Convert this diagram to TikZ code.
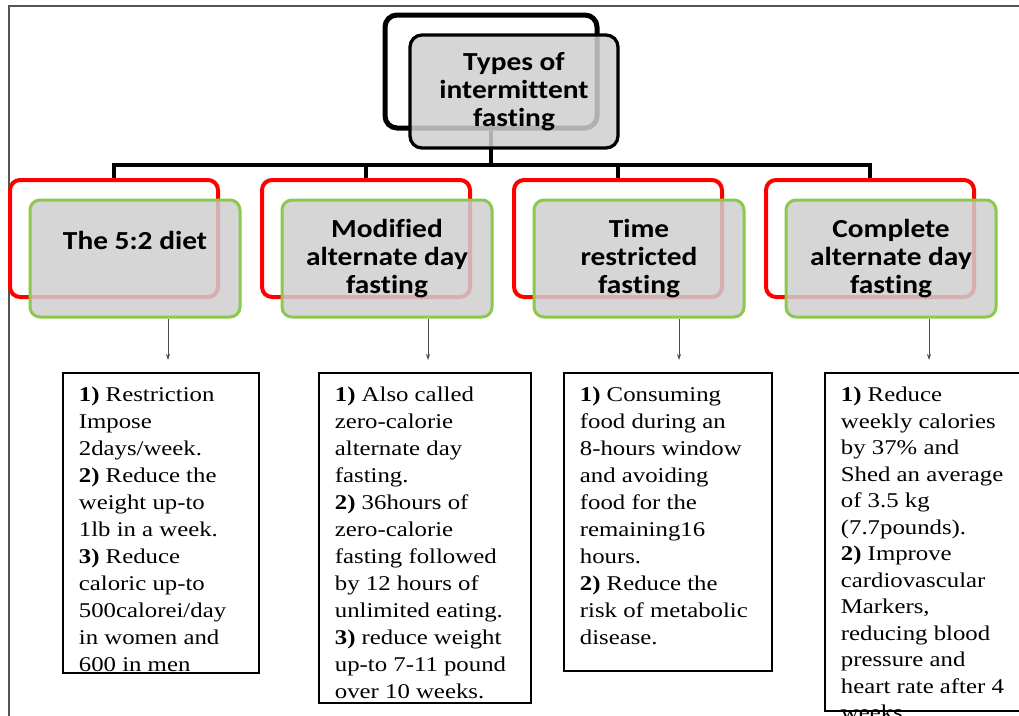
\documentclass[tikz,border=0pt]{standalone}
\usepackage{fontspec}
\newfontfamily\headfont[FakeStretch=1.13, Ligatures=NoCommon]{Carlito}
\newfontfamily\infofont[FakeStretch=1.18]{Liberation Serif}
\usetikzlibrary{positioning,arrows.meta}

\definecolor{boxgray}{HTML}{CFCFCF}
\definecolor{leafgreen}{HTML}{8CC84B}
\definecolor{framegray}{HTML}{555555}

\newcommand{\infolines}[3]{\parbox[t][#1pt][t]{#2pt}{\rule{0pt}{29pt}#3}}

\tikzset{
  backbox/.style={draw=black, line width=5pt, rounded corners=12pt, fill=white,
    minimum width=212pt, minimum height=113pt},
  topbox/.style={draw=black, line width=3.3pt, rounded corners=12pt, fill=boxgray,
    fill opacity=0.85, text opacity=1, minimum width=208pt, minimum height=113pt,
    align=center, font=\headfont\bfseries\fontsize{26}{28}\selectfont},
  redbox/.style={draw=red, line width=4pt, rounded corners=10pt, fill=white,
    minimum width=208pt, minimum height=117pt},
  greenbox/.style={draw=leafgreen, line width=3pt, rounded corners=10pt, fill=boxgray,
    fill opacity=0.85, text opacity=1, minimum width=210pt, minimum height=117pt,
    align=center, font=\headfont\bfseries\fontsize{26}{28}\selectfont},
  infobox/.style={draw=black, line width=1.8pt, fill=white, anchor=north west,
    inner xsep=16pt, inner ysep=0pt, font=\infofont\fontsize{21}{27}\selectfont},
  tree/.style={draw=black, line width=3.5pt},
  arr/.style={draw=gray!60!black, line width=1pt, -{Stealth[length=6pt,width=4pt]},
    shorten >=12pt}
}

\begin{document}
\begin{tikzpicture}[x=1pt, y=-1pt, node distance=40pt]

  \useasboundingbox (0,0) rectangle (1019,715);
  \clip (0,0) rectangle (1019,715);

  % Frame
  \draw[framegray, line width=1.5pt] (9,6) rectangle (1040,740);

  % Define nodes
  \node[backbox]                  (back) at (491,71.5) {};
  \node[redbox]                   (r1) at (114,238.5) {};
  \node[redbox, right=of r1]      (r2) {};
  \node[redbox, right=of r2]      (r3) {};
  \node[redbox, right=of r3]      (r4) {};

  % Connect the nodes
  \coordinate (bus) at (491,165);
  \draw[tree] (back.south) -- (bus);
  \draw[tree] (r1.north) |- (bus) -| (r4.north);
  \draw[tree] (r2.north) -- (r2.north |- bus);
  \draw[tree] (r3.north) -- (r3.north |- bus);

  \node[topbox, xshift=23pt, yshift=-20pt] (types) at (back) {Types of\\intermittent\\fasting};
  \node[greenbox, xshift=21pt, yshift=-20pt, text depth=37pt] (g1) at (r1) {The 5:2 diet};
  \node[greenbox, xshift=21pt, yshift=-20pt] (g2) at (r2) {Modified\\alternate day\\fasting};
  \node[greenbox, xshift=21pt, yshift=-20pt] (g3) at (r3) {Time\\restricted\\fasting};
  \node[greenbox, xshift=21pt, yshift=-20pt] (g4) at (r4) {Complete\\alternate day\\fasting};

  % Details
  \node[infobox] (t1) at (62,372) {\infolines{300}{164}{%
    \textbf{1)} Restriction\\ Impose\\ 2days/week.\\
    \textbf{2)} Reduce the\\ weight up-to\\ 1lb in a week.\\
    \textbf{3)} Reduce\\ caloric up-to\\ 500calorei/day\\ in women and\\ 600 in men}};
  \node[infobox] (t2) at (318,372) {\infolines{330}{180}{%
    \textbf{1)} Also called\\ zero-calorie\\ alternate day\\ fasting.\\
    \textbf{2)} 36hours of\\ zero-calorie\\ fasting followed\\ by 12 hours of\\ unlimited eating.\\
    \textbf{3)} reduce weight\\ up-to 7-11 pound\\ over 10 weeks.}};
  \node[infobox] (t3) at (563,372) {\infolines{298}{176}{%
    \textbf{1)} Consuming\\ food during an\\ 8-hours window\\ and avoiding\\ food for the\\
    remaining16\\ hours.\\
    \textbf{2)} Reduce the\\ risk of metabolic\\ disease.}};
  \node[infobox] (t4) at (824,372) {\infolines{338}{190}{\baselineskip=26.5pt
    \textbf{1)} Reduce\\ weekly calories\\ by 37\% and\\ Shed an average\\ of 3.5 kg\\ (7.7pounds).\\
    \textbf{2)} Improve\\ cardiovascular\\ Markers,\\ reducing blood\\ pressure and\\
    heart rate after 4\\ weeks.}};

  \draw[arr] ([xshift=33pt]g1.south) -- ([xshift=33pt]g1.south |- t1.north);
  \draw[arr] ([xshift=41pt]g2.south) -- ([xshift=41pt]g2.south |- t2.north);
  \draw[arr] ([xshift=40pt]g3.south) -- ([xshift=40pt]g3.south |- t3.north);
  \draw[arr] ([xshift=38pt]g4.south) -- ([xshift=38pt]g4.south |- t4.north);

\end{tikzpicture}
\end{document}
